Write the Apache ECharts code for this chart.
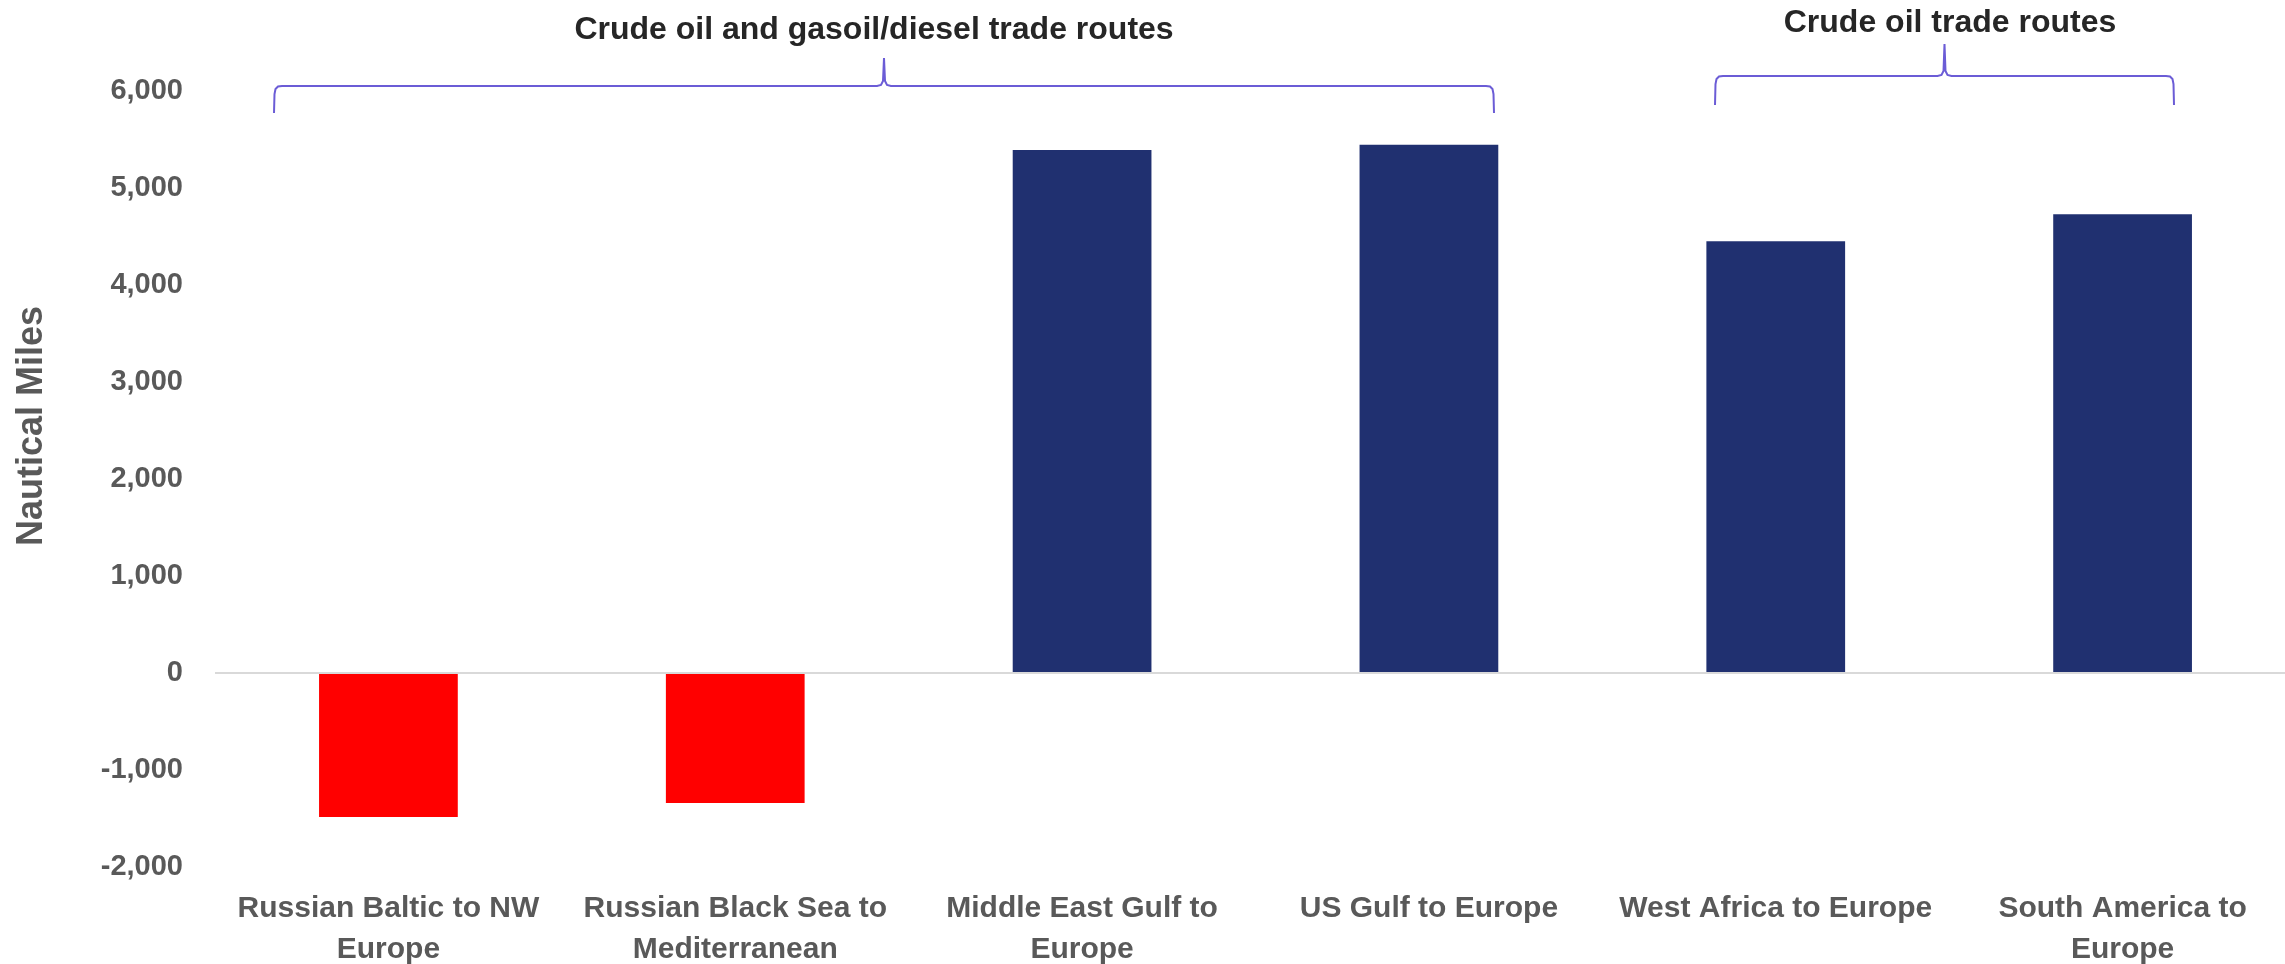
<!DOCTYPE html>
<html>
<head>
<meta charset="utf-8">
<title>Trade route distances</title>
<script src="https://cdn.jsdelivr.net/npm/echarts@6/dist/echarts.min.js"></script>
<style>
  html, body { margin: 0; padding: 0; background: #fff; }
  #main { width: 2285px; height: 964px; }
</style>
</head>
<body>
<div id="main"></div>
<script>
// routes and their change in distance (nautical miles)
var routes = [
  'Russian Baltic to NW\nEurope',
  'Russian Black Sea to\nMediterranean',
  'Middle East Gulf to\nEurope',
  'US Gulf to Europe',
  'West Africa to Europe',
  'South America to\nEurope'
];
var miles = [-1485, -1340, 5393, 5445, 4451, 4730];
var yTicks = { min: -2000, max: 6000, step: 1000 };
var groupLabels = ['Crude oil and gasoil/diesel trade routes', 'Crude oil trade routes'];

var font = '"Liberation Sans", Arial, sans-serif';
var grey = '#595959';
var bracketColor = '#6B5CD6';

// curly bracket: ends at x0,x1, bottom at yb, flat part at yh, tip at yt
function bracket(x0, x1, yb, yh, yt) {
  var xm = (x0 + x1) / 2;
  return [
    [x0, yb], [x0 + 0.5, yh + 8], [x0 + 1.5, yh + 3], [x0 + 4, yh + 0.5], [x0 + 8, yh],
    [xm - 7, yh], [xm - 3, yh - 1], [xm - 1, yh - 5], [xm, yt],
    [xm + 1, yh - 5], [xm + 3, yh - 1], [xm + 7, yh],
    [x1 - 8, yh], [x1 - 4, yh + 0.5], [x1 - 1.5, yh + 3], [x1 - 0.5, yh + 8], [x1, yb]
  ];
}

var chart = echarts.init(document.getElementById('main'), null, { renderer: 'canvas' });

var option = {
  backgroundColor: '#fff',
  animation: false,
  grid: {
    left: 215, top: 91, width: 2081, height: 776,
    containLabel: false,
    outerBoundsMode: 'none'
  },
  xAxis: {
    type: 'category',
    data: routes,
    axisLine: { show: false, onZero: false },
    axisTick: { show: false },
    axisLabel: {
      interval: 0,
      margin: 21,
      fontFamily: font,
      fontWeight: 'bold',
      fontSize: 30,
      lineHeight: 41,
      color: grey
    }
  },
  yAxis: {
    type: 'value',
    min: yTicks.min,
    max: yTicks.max,
    interval: yTicks.step,
    splitLine: { show: false },
    axisLine: { show: false },
    axisTick: { show: false },
    axisLabel: {
      margin: 32,
      fontFamily: font,
      fontWeight: 'bold',
      fontSize: 29,
      color: grey,
      formatter: function (v) { return echarts.format.addCommas(v); }
    }
  },
  series: [{
    type: 'bar',
    data: miles,
    barWidth: '40%',
    itemStyle: {
      color: function (p) { return p.value < 0 ? '#FF0000' : '#203070'; }
    },
    markLine: {
      silent: true,
      symbol: 'none',
      label: { show: false },
      lineStyle: { color: '#D9D9D9', width: 2, type: 'solid' },
      data: [{ yAxis: 0 }]
    }
  }],
  graphic: [
    {
      type: 'text', x: 32, y: 426, rotation: Math.PI / 2,
      style: {
        text: 'Nautical Miles', fill: grey, font: 'bold 36px ' + font,
        textAlign: 'center', textVerticalAlign: 'middle'
      }
    },
    {
      type: 'text', x: 874, y: 30,
      style: {
        text: groupLabels[0], fill: '#262626', font: 'bold 32px ' + font,
        textAlign: 'center', textVerticalAlign: 'middle'
      }
    },
    {
      type: 'text', x: 1950, y: 23,
      style: {
        text: groupLabels[1], fill: '#262626', font: 'bold 32px ' + font,
        textAlign: 'center', textVerticalAlign: 'middle'
      }
    },
    {
      type: 'polyline',
      shape: { points: bracket(274, 1494, 113, 86, 58) },
      style: { fill: null, stroke: bracketColor, lineWidth: 2 }
    },
    {
      type: 'polyline',
      shape: { points: bracket(1715, 2174, 105, 76, 44) },
      style: { fill: null, stroke: bracketColor, lineWidth: 2 }
    }
  ]
};

chart.setOption(option);
</script>
</body>
</html>
